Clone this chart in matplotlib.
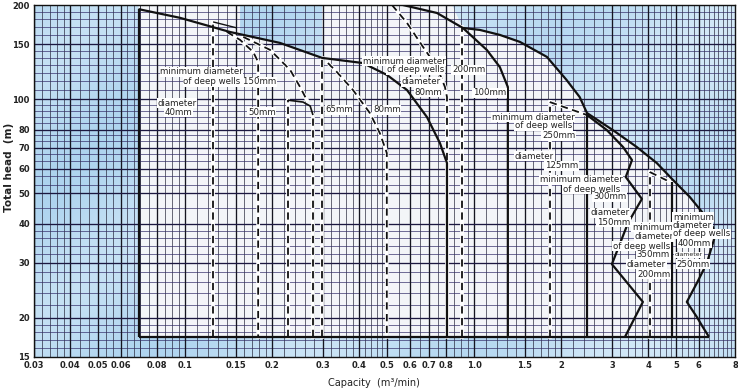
import numpy as np
import matplotlib
matplotlib.use("Agg")
import matplotlib.pyplot as plt
from matplotlib.colors import LinearSegmentedColormap
from matplotlib.ticker import FixedLocator, FixedFormatter, NullLocator

# ---------------- data: capacity (m3/min) vs total head (m) ----------------
base_head = 17.4
left_q = 0.069
left_top_h = 194.0

# well 150 mm group
env150_q = [0.069, 0.096, 0.143, 0.213, 0.298, 0.412, 0.50, 0.586, 0.687, 0.762, 0.806, 0.806]
env150_h = [194, 182, 164, 151.3, 135.5, 130.5, 119.5, 107, 87.7, 72.4, 62.5, 17.4]
p40_q = [0.125, 0.151]
p40_h = [176.6, 169.0]
p50_q = [0.1395, 0.155, 0.172, 0.179, 0.179]
p50_h = [164.1, 154.7, 141.6, 131.5, 17.4]
p65_dash_q = [0.159, 0.197, 0.231, 0.250, 0.264]
p65_dash_h = [158.1, 143.7, 124.0, 109.4, 99.3]
p65_q = [0.227, 0.256, 0.271, 0.277]
p65_h = [99.3, 97.9, 95.1, 89.0]
p80_q = [0.312, 0.335, 0.381, 0.436, 0.472, 0.499, 0.499]
p80_h = [130.5, 122.2, 107.0, 90.3, 77.9, 67.3, 17.4]

# well 200 mm group
w200_80_q = [0.520, 0.586, 0.666, 0.744, 0.793, 0.806, 0.806]
w200_80_h = [200, 175.3, 146.9, 126.7, 109.4, 101.6, 17.4]
w200_100_q = [0.567, 0.744, 0.915, 1.107, 1.228, 1.309, 1.309]
w200_100_h = [200, 188.6, 168.9, 143.7, 126.7, 109.4, 17.4]

# outer limit of the chart (right side)
outer_q = [0.915, 1.047, 1.228, 1.442, 1.787, 2.09, 2.32, 2.46, 3.02, 3.66, 4.29, 4.88,
           5.58, 6.19, 6.71, 6.81, 6.39, 5.91, 5.45, 5.91, 6.19, 6.5]
outer_h = [168.9, 166.5, 160.5, 152.4, 136.5, 115.2, 101.6, 90.3, 79.7, 70.3, 62.5, 55.2,
           48.7, 43.3, 39.0, 36.3, 29.9, 25.9, 22.5, 20.1, 18.7, 17.4]

# well 250 mm group
w250_q = [1.83, 2.46]
w250_h = [97.9, 89.0]
# well 300 mm group (zigzag limit)
w300_q = [2.46, 2.88, 3.28, 3.52, 3.35, 3.81, 3.41, 3.00, 3.84, 3.33]
w300_h = [89.0, 79.7, 70.3, 63.9, 56.4, 48.0, 40.2, 29.7, 22.5, 17.4]
# well 350 mm group
w350_q = [4.06, 4.76]
w350_h = [58.5, 54.4]

# notch in the white area (top, between 0.155 and 0.298)
notch_q = [0.155, 0.298]
notch_h = [161.0, 135.5]
top_open_q = 0.84

dashed_vert_q = [0.125, 0.227, 0.277, 0.298, 0.908, 1.83, 4.06]
dashed_vert_top = [176.6, 99.3, 89.0, 135.5, 170.2, 97.9, 58.5]
solid_vert_q = [2.46, 4.84]
solid_vert_top = [90.3, 54.4]

xticks = [0.03, 0.04, 0.05, 0.06, 0.08, 0.1, 0.15, 0.2, 0.3, 0.4, 0.5, 0.6, 0.7, 0.8,
          1.0, 1.5, 2, 3, 4, 5, 6, 8]
xtick_labels = ["0.03", "0.04", "0.05", "0.06", "0.08", "0.1", "0.15", "0.2", "0.3", "0.4",
                "0.5", "0.6", "0.7", "0.8", "1.0", "1.5", "2", "3", "4", "5", "6", "8"]
yticks = [15, 20, 30, 40, 50, 60, 70, 80, 100, 150, 200]
ytick_labels = [str(v) for v in yticks]

labels = [
    ("minimum diameter", 0.0819, 122.2), ("of deep wells 150mm", 0.0984, 113.5),
    ("diameter", 0.080, 97.2), ("40mm", 0.0851, 91.0),
    ("50mm", 0.165, 91.0), ("65mm", 0.305, 92.4), ("80mm", 0.447, 92.4),
    ("minimum diameter", 0.412, 132.4), ("of deep wells", 0.499, 124.0), ("200mm", 0.838, 124.0),
    ("diameter", 0.563, 113.5), ("80mm", 0.624, 105.4), ("100mm", 0.991, 104.7),
    ("minimum diameter", 1.153, 87.7), ("of deep wells", 1.385, 82.1), ("250mm", 1.718, 76.3),
    ("diameter", 1.385, 65.8), ("125mm", 1.758, 61.2),
    ("minimum diameter", 1.691, 55.2), ("of deep wells", 2.031, 51.6), ("300mm", 2.58, 48.7),
    ("diameter", 2.52, 43.3), ("150mm", 2.66, 40.5),
    ("minimum", 3.52, 39.0), ("diameter", 3.60, 36.3), ("of deep wells", 3.02, 33.9),
    ("350mm", 3.66, 31.8), ("diameter", 3.38, 29.7), ("200mm", 3.66, 27.6),
    ("minimum", 4.88, 42.0), ("diameter", 4.88, 39.6), ("of deep wells", 4.88, 37.1),
    ("400mm", 5.08, 34.7), ("250mm", 5.0, 29.7),
]
small_labels = [("diameter", 4.96, 31.8)]

# ---------------- figure ----------------
fig = plt.figure(figsize=(7.38, 3.9), dpi=100)
ax = fig.add_axes([34 / 738, 33 / 390, 701 / 738, 352 / 390])
ax.set_xscale("log")
ax.set_yscale("log")
ax.set_xlim(0.03, 8)
ax.set_ylim(15, 200)

# blue background with soft streaks
yy, xx = np.mgrid[0:1:200j, 0:1:400j]
pattern = 0.5 + 0.15 * np.sin((xx * 2.2 + yy * 1.4) * np.pi * 2.0) + 0.2 * xx
cmap = LinearSegmentedColormap.from_list("bg", ["#a2cdec", "#dbedf9"])
ax.imshow(pattern, extent=[0, 1, 0, 1], transform=ax.transAxes, cmap=cmap,
          aspect="auto", zorder=0, vmin=0.2, vmax=0.95)

# white operating area
region_q = ([left_q, left_q, notch_q[0], notch_q[0]] + env150_q[3:5] +
            [notch_q[1], top_open_q] + outer_q + [left_q])
region_h = ([base_head, 200, 200, notch_h[0]] + env150_h[3:5] +
            [200, 200] + outer_h + [base_head])
ax.fill(region_q, region_h, color="#f3f5f8", zorder=1, lw=0)

# grid
def seg(a, b, s):
    return list(np.round(np.arange(a, b + s / 2, s), 4))

xgrid = sorted(set(seg(0.03, 0.04, 0.002) + seg(0.04, 0.07, 0.0033) + seg(0.07, 0.1, 0.005) +
                   seg(0.1, 0.2, 0.01) + seg(0.2, 0.5, 0.02) + seg(0.5, 1.0, 0.05) +
                   seg(1.0, 2.0, 0.1) + seg(2.0, 5.0, 0.2) + seg(5.0, 8.0, 0.25)))
ygrid = sorted(set(seg(15, 20, 1) + seg(20, 40, 2) + seg(40, 50, 5) + seg(50, 80, 10 / 3) +
                   seg(80, 100, 4) + seg(100, 150, 50 / 7) + seg(150, 200, 10)))
xmajor = [0.03, 0.04, 0.05, 0.06, 0.08, 0.1, 0.15, 0.2, 0.3, 0.4, 0.5, 0.6, 0.7, 0.8, 1.0,
          1.5, 2, 3, 4, 5, 6]
ymajor = [20, 30, 40, 50, 60, 70, 80, 100, 150]
ax.vlines(xgrid, 15, 200, colors="#26263a", lw=0.6, zorder=2, alpha=0.8)
ax.hlines(ygrid, 0.03, 8, colors="#322c68", lw=0.6, zorder=2, alpha=0.8)
ax.vlines(xmajor, 15, 200, colors="#151520", lw=0.95, zorder=2)
ax.hlines(ymajor, 0.03, 8, colors="#1c1840", lw=0.95, zorder=2)

# curves
def solid(q, h, lw=1.6):
    ax.plot(q, h, color="#111111", lw=lw, zorder=4, solid_capstyle="butt")

def dashed(q, h, lw=1.3):
    ax.plot(q, h, color="white", lw=lw + 1.4, zorder=3)
    ax.plot(q, h, color="#111111", lw=lw, zorder=4, linestyle=(0, (4, 2.5)))

solid([left_q, left_q], [base_head, left_top_h])
solid([left_q, outer_q[-1]], [base_head, base_head])
solid(env150_q, env150_h)
solid(p40_q, p40_h, lw=1.0)
solid(p65_q, p65_h, lw=1.2)
solid(w200_100_q, w200_100_h)
solid(outer_q, outer_h)
solid(w300_q, w300_h)
for q, top in zip(solid_vert_q, solid_vert_top):
    solid([q, q], [base_head, top])

dashed(p50_q, p50_h)
dashed(p65_dash_q, p65_dash_h)
dashed(p80_q, p80_h)
dashed(w200_80_q, w200_80_h)
dashed(w250_q, w250_h)
dashed(w350_q, w350_h)
for q, top in zip(dashed_vert_q, dashed_vert_top):
    dashed([q, q], [base_head, top])

# labels
box = dict(facecolor="white", edgecolor="none", pad=0.4)
for txt, q, h in labels:
    ax.text(q, h, txt, fontsize=6.2, color="#222222", ha="left", va="center",
            bbox=box, zorder=6)
for txt, q, h in small_labels:
    ax.text(q, h, txt, fontsize=4.4, color="#222222", ha="left", va="center",
            bbox=box, zorder=6)

# axes / ticks
ax.xaxis.set_major_locator(FixedLocator(xticks))
ax.xaxis.set_major_formatter(FixedFormatter(xtick_labels))
ax.xaxis.set_minor_locator(NullLocator())
ax.yaxis.set_major_locator(FixedLocator(yticks))
ax.yaxis.set_major_formatter(FixedFormatter(ytick_labels))
ax.yaxis.set_minor_locator(NullLocator())
ax.tick_params(length=0, pad=3, labelsize=6, labelcolor="#222222")
for lab in ax.get_xticklabels() + ax.get_yticklabels():
    lab.set_fontweight("bold")
for sp in ax.spines.values():
    sp.set_color("#111111")
    sp.set_linewidth(1.0)
    sp.set_zorder(7)

fig.text(9 / 738, 1 - 167 / 390, "Total head  (m)", rotation=90, ha="center", va="center",
         fontsize=7.5, fontweight="bold", color="#222222")
fig.text(374 / 738, 1 - 383 / 390, "Capacity  (m³/min)", ha="center", va="center",
         fontsize=7, color="#222222")

fig.savefig("out.png", dpi=100)
